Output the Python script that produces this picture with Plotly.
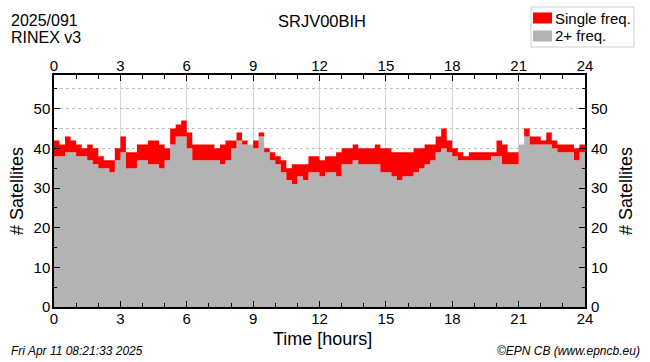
import plotly.graph_objects as go

# hours 0..24 every 15 minutes
hours = [i * 0.25 for i in range(97)]

total_sats = [42, 41, 43, 42, 41, 40, 41, 40, 38, 37, 37, 40, 43, 39, 39, 41,
              41, 42, 42, 41, 40, 45, 46, 47, 44, 41, 41, 41, 41, 40, 41, 42,
              42, 44, 42, 41, 42, 44, 40, 39, 38, 37, 35, 36, 36, 36, 38, 38,
              37, 38, 38, 39, 40, 40, 41, 40, 40, 40, 41, 40, 40, 39, 39, 39,
              39, 40, 40, 41, 41, 43, 45, 42, 40, 39, 38, 39, 39, 39, 39, 39,
              42, 41, 39, 39, 41, 45, 43, 43, 42, 44, 42, 41, 41, 41, 40, 41,
              41]

two_plus_freq = [38, 38, 39, 39, 38, 38, 37, 36, 35, 35, 34, 37, 39, 35, 35, 37,
                 37, 36, 36, 35, 37, 41, 43, 43, 40, 37, 37, 37, 37, 37, 36, 37,
                 40, 42, 41, 41, 40, 43, 39, 37, 36, 34, 32, 31, 33, 32, 34, 34,
                 33, 34, 34, 33, 36, 36, 37, 36, 36, 36, 36, 34, 34, 33, 32, 33,
                 33, 34, 35, 36, 37, 39, 40, 39, 38, 37, 37, 37, 37, 37, 37, 38,
                 38, 36, 36, 36, 41, 43, 41, 41, 41, 41, 40, 39, 39, 39, 37, 39,
                 40]

x_ticks = [0, 3, 6, 9, 12, 15, 18, 21, 24]
y_ticks = [0, 10, 20, 30, 40, 50]

series_names = ["Single freq.", "2+ freq."]
series_colors = ["#ff0000", "#b3b3b3"]

FONT = "Liberation Sans, Arial, sans-serif"
L, R, T, B = 54, 65, 75, 55
W, H = 650, 362
PW, PH = W - L - R, H - T - B


def px(X):
    return (X - L) / PW


def py(Y):
    return (H - B - Y) / PH


fig = go.Figure()
fig.add_trace(go.Scatter(
    x=hours, y=two_plus_freq, name=series_names[1], mode="lines",
    line=dict(width=0, shape="hv", color=series_colors[1]),
    fill="tozeroy", fillcolor=series_colors[1], hoverinfo="skip"))
fig.add_trace(go.Scatter(
    x=hours, y=total_sats, name=series_names[0], mode="lines",
    line=dict(width=0, shape="hv", color=series_colors[0]),
    fill="tonexty", fillcolor=series_colors[0], hoverinfo="skip"))
# transparent copy so that the top and right axes are drawn
fig.add_trace(go.Scatter(
    x=hours, y=total_sats, xaxis="x2", yaxis="y2", mode="lines",
    line=dict(width=0, color="rgba(0,0,0,0)"), showlegend=False,
    hoverinfo="skip"))

xr = [0, 24]
yr = [0, 58.5]

fig.update_layout(
    width=W, height=H,
    margin=dict(l=L, r=R, t=T, b=B, autoexpand=False),
    paper_bgcolor="white", plot_bgcolor="white",
    font=dict(family=FONT, size=15, color="black"),
    showlegend=False,
    xaxis=dict(range=xr, tickvals=x_ticks, ticks="inside", ticklen=6,
               tickcolor="black", tickwidth=1,
               showline=True, linecolor="black", linewidth=1.5, mirror="ticks",
               showgrid=True, gridcolor="#d4d4d4", gridwidth=1,
               minor=dict(dtick=1, ticks="inside", ticklen=4, tickcolor="black",
                          showgrid=False),
               zeroline=False, tickfont=dict(size=15), ticklabelstandoff=-3,
               layer="above traces"),
    xaxis2=dict(range=xr, tickvals=x_ticks, overlaying="x", side="top",
                showline=False, ticks="", showgrid=False, zeroline=False,
                tickfont=dict(size=15), ticklabelstandoff=0),
    yaxis=dict(range=yr, tickvals=y_ticks, ticks="inside", ticklen=6,
               tickcolor="black",
               showline=True, linecolor="black", linewidth=1.5, mirror="ticks",
               showgrid=True, gridcolor="#bdbdbd", griddash="dot", gridwidth=1,
               minor=dict(dtick=5, ticks="inside", ticklen=3, tickcolor="black",
                          showgrid=True, gridcolor="#bdbdbd", griddash="dot"),
               zeroline=False, tickfont=dict(size=15), ticklabelstandoff=-1,
               layer="above traces"),
    yaxis2=dict(range=yr, tickvals=y_ticks, overlaying="y", side="right",
                showline=False, ticks="", showgrid=False, zeroline=False,
                tickfont=dict(size=15), ticklabelstandoff=5),
)

# legend drawn as a small box with two swatches
shapes = [
    dict(type="rect", xref="paper", yref="paper",
         x0=px(531), x1=px(634), y0=py(47), y1=py(7),
         line=dict(color="#d0d0d0", width=1), fillcolor="white", layer="above"),
]
legend_rows = [18, 36]
for name, color, yc in zip(series_names, series_colors, legend_rows):
    shapes.append(dict(type="rect", xref="paper", yref="paper",
                       x0=px(533), x1=px(552), y0=py(yc + 5.5), y1=py(yc - 5.5),
                       line=dict(width=0), fillcolor=color, layer="above"))
fig.update_layout(shapes=shapes)

ann = [
    dict(text="2025/091", x=px(9), y=py(20.5), xanchor="left", yanchor="middle",
         font=dict(size=16)),
    dict(text="RINEX v3", x=px(9), y=py(37.5), xanchor="left", yanchor="middle",
         font=dict(size=16)),
    dict(text="SRJV00BIH", x=px(322), y=py(21), xanchor="center", yanchor="middle",
         font=dict(size=16.5)),
    dict(text="Time [hours]", x=px(322), y=py(339), xanchor="center", yanchor="middle",
         font=dict(size=18)),
    dict(text="# Satellites", x=px(17), y=py(191), xanchor="center", yanchor="middle",
         textangle=-90, font=dict(size=18)),
    dict(text="# Satellites", x=px(626), y=py(191), xanchor="center", yanchor="middle",
         textangle=-90, font=dict(size=18)),
    dict(text="<i>Fri Apr 11 08:21:33 2025</i>", x=px(9), y=py(351),
         xanchor="left", yanchor="middle", font=dict(size=12)),
    dict(text="<i>©EPN CB (www.epncb.eu)</i>", x=px(642), y=py(351),
         xanchor="right", yanchor="middle", font=dict(size=12)),
]
for name, yc in zip(series_names, legend_rows):
    ann.append(dict(text=name, x=px(553), y=py(yc), xanchor="left",
                    yanchor="middle", font=dict(size=15)))
for a in ann:
    a.update(xref="paper", yref="paper", showarrow=False)
fig.update_layout(annotations=ann)

fig.write_html("out.html", config={"displayModeBar": False},
               post_script="document.body.style.margin='0';"
                           "document.body.style.padding='0';")
